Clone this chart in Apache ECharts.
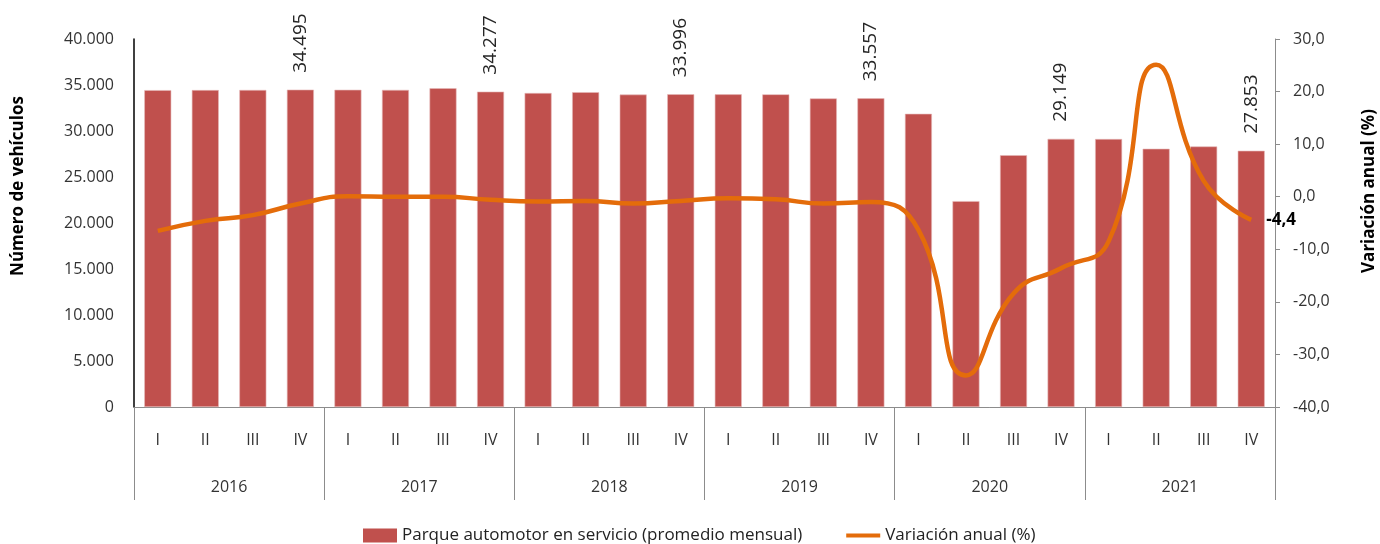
<!DOCTYPE html>
<html>
<head>
<meta charset="utf-8">
<title>Parque automotor en servicio</title>
<script src="https://cdn.jsdelivr.net/npm/echarts/dist/echarts.min.js"></script>
<style>
  html, body { margin: 0; padding: 0; background: #fff; }
  #main { width: 1380px; height: 544px; }
</style>
</head>
<body>
<div id="main"></div>
<script>
// datos trimestrales 2016-2021
const trimestres = ['I', 'II', 'III', 'IV'];
const anios = ['2016', '2017', '2018', '2019', '2020', '2021'];
const parque = [
  34440, 34450, 34460, 34495,
  34480, 34470, 34650, 34277,
  34130, 34220, 33960, 33996,
  33990, 33985, 33540, 33557,
  31870, 22380, 27370, 29149,
  29130, 28070, 28320, 27853
];
const variacion = [
  -6.5, -4.6, -3.5, -1.3,
  0.1, 0.0, 0.0, -0.6,
  -0.9, -0.8, -1.3, -0.8,
  -0.3, -0.5, -1.3, -1.0,
  -6.3, -34.0, -18.4, -13.6,
  -8.5, 25.1, 3.0, -4.4
];
const ejeIzq = { min: 0, max: 40000, interval: 5000 };
const ejeDer = { min: -40, max: 30, interval: 10 };

let categorias = [];
anios.forEach(a => trimestres.forEach(t => categorias.push(t)));

const FONT = '"Open Sans", "Noto Sans", sans-serif';

function miles(v) {
  return String(Math.round(v)).replace(/\B(?=(\d{3})+(?!\d))/g, '.');
}
function decimal(v) {
  return v.toFixed(1).replace('.', ',');
}

let myChart = echarts.init(document.getElementById('main'));
let option = {
  animation: false,
  textStyle: { fontFamily: FONT },
  grid: { left: 134, right: 105, top: 39, bottom: 137, containLabel: false },
  legend: {
    left: 358,
    top: 522,
    itemWidth: 34,
    itemHeight: 14,
    itemGap: 44,
    textStyle: { fontSize: 17, color: '#222', fontFamily: FONT },
    data: [
      { name: 'Parque automotor en servicio (promedio mensual)', icon: 'rect', itemStyle: { borderWidth: 0 } },
      // solo la linea, sin circulo
      { name: 'Variación anual (%)', icon: 'path://M0,0 L36,0 L36,4 L0,4 Z', itemStyle: { color: '#E46C0A', borderWidth: 0 } }
    ]
  },
  graphic: [
    {
      type: 'text', x: 18, y: 186, rotation: Math.PI / 2,
      style: { text: 'Número de vehículos', font: 'bold 17px ' + FONT, fill: '#000', align: 'center', verticalAlign: 'middle' }
    },
    {
      type: 'text', x: 1369, y: 191, rotation: Math.PI / 2,
      style: { text: 'Variación anual (%)', font: 'bold 17px ' + FONT, fill: '#000', align: 'center', verticalAlign: 'middle' }
    }
  ],
  xAxis: [
    {
      type: 'category',
      position: 'bottom',
      data: categorias,
      axisLine: { onZero: false, lineStyle: { color: '#8c8c8c', width: 1 } },
      axisTick: { show: false },
      axisLabel: { margin: 25, fontSize: 16, color: '#333', interval: 0 }
    },
    {
      type: 'category',
      position: 'bottom',
      data: anios,
      axisLine: { show: false, onZero: false },
      axisTick: { show: true, length: 93, lineStyle: { color: '#8c8c8c', width: 1 } },
      axisLabel: { margin: 72, fontSize: 16, color: '#333', interval: 0 }
    }
  ],
  yAxis: [
    {
      type: 'value',
      min: ejeIzq.min, max: ejeIzq.max, interval: ejeIzq.interval,
      splitLine: { show: false },
      axisLine: { show: true, onZero: false, lineStyle: { color: '#000', width: 1.5 } },
      axisTick: { show: false },
      axisLabel: { margin: 20, fontSize: 16, color: '#333', formatter: v => miles(v) }
    },
    {
      type: 'value',
      position: 'right',
      min: ejeDer.min, max: ejeDer.max, interval: ejeDer.interval,
      splitLine: { show: false },
      axisLine: { show: true, onZero: false, lineStyle: { color: '#8c8c8c', width: 1 } },
      axisTick: { show: true, length: 5, lineStyle: { color: '#8c8c8c' } },
      axisLabel: { margin: 18, fontSize: 16, color: '#333', formatter: v => decimal(v) }
    }
  ],
  series: [
    {
      name: 'Parque automotor en servicio (promedio mensual)',
      type: 'bar',
      xAxisIndex: 0,
      yAxisIndex: 0,
      data: parque,
      barWidth: 27,
      itemStyle: { color: '#C0504D', borderColor: '#E6B9B8', borderWidth: 0.6 },
      label: {
        show: true,
        position: 'top',
        rotate: 90,
        align: 'left',
        verticalAlign: 'middle',
        distance: 17,
        fontSize: 19,
        color: '#262626',
        formatter: p => (p.dataIndex % 4 === 3 ? miles(p.value) : '')
      }
    },
    {
      name: 'Variación anual (%)',
      type: 'line',
      xAxisIndex: 0,
      yAxisIndex: 1,
      data: variacion,
      smooth: 0.5,
      symbol: 'none',
      z: 5,
      lineStyle: { color: '#E46C0A', width: 4.5 },
      itemStyle: { color: '#E46C0A' },
      endLabel: {
        show: true,
        distance: 15,
        fontSize: 17,
        fontWeight: 'bold',
        color: '#000',
        formatter: p => decimal(p.value)
      }
    }
  ]
};
myChart.setOption(option);
</script>
</body>
</html>
